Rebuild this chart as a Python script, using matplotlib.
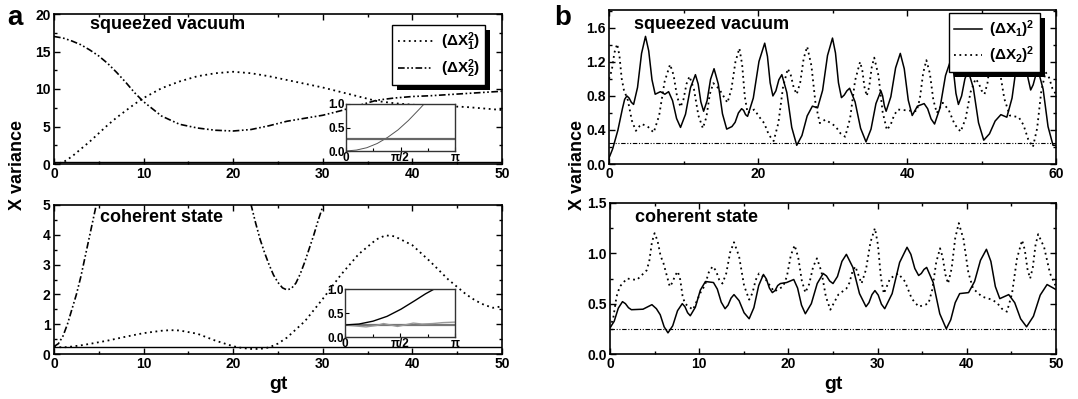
import numpy as np
import matplotlib
matplotlib.use("Agg")
import matplotlib.pyplot as plt
from matplotlib.patches import Rectangle
from matplotlib.ticker import MultipleLocator, FormatStrFormatter, FixedLocator

plt.rcParams['font.family'] = ['Liberation Sans', 'DejaVu Sans']
plt.rcParams['font.weight'] = 'bold'
plt.rcParams['mathtext.fontset'] = 'custom'
plt.rcParams['mathtext.rm'] = 'Liberation Sans:bold'
plt.rcParams['mathtext.it'] = 'Liberation Sans:bold'
plt.rcParams['mathtext.bf'] = 'Liberation Sans:bold'
plt.rcParams['mathtext.default'] = 'rm'

# ---- panel a, squeezed vacuum ----
gt_a = [0, 1, 2, 3, 4, 5, 6, 7, 8, 9, 10, 12, 14, 16, 18, 20, 22, 24, 26, 28,
        30, 32, 34, 36, 38, 40, 42, 44, 46, 48, 50]
sq_x1 = [0.05, 0.2, 1.0, 2.0, 3.0, 4.1, 5.2, 6.2, 7.1, 8.0, 8.8, 10.1, 11.0, 11.7,
         12.1, 12.3, 12.1, 11.7, 11.2, 10.7, 10.2, 9.6, 9.0, 8.4, 8.1, 7.9, 7.8,
         7.7, 7.6, 7.4, 7.2]
sq_x2 = [17.0, 16.8, 16.4, 15.9, 15.2, 14.4, 13.4, 12.2, 10.9, 9.5, 8.3, 6.4, 5.3,
         4.8, 4.5, 4.4, 4.6, 5.1, 5.7, 6.1, 6.5, 7.1, 7.8, 8.5, 8.8, 9.0, 9.1,
         9.25, 9.4, 9.55, 9.7]

# ---- panel a, coherent state ----
coh_x1_t = [0, 1, 2, 3, 4, 6, 8, 10, 12, 13, 14, 16, 18, 20, 21, 22, 23, 24, 25,
            26, 28, 30, 32, 34, 36, 37, 38, 40, 42, 44, 45, 46, 47, 48, 49, 50]
coh_x1 = [0.25, 0.22, 0.25, 0.29, 0.34, 0.45, 0.58, 0.70, 0.78, 0.80, 0.79, 0.68,
          0.45, 0.26, 0.20, 0.17, 0.17, 0.22, 0.35, 0.55, 1.1, 1.85, 2.65, 3.35,
          3.85, 3.98, 3.95, 3.65, 3.1, 2.5, 2.25, 2.0, 1.8, 1.65, 1.55, 1.6]
coh_x2_t1 = [0, 0.5, 1, 1.5, 2, 2.5, 3, 3.5, 4, 4.5, 5, 5.5]
coh_x2_1 = [0.25, 0.35, 0.6, 1.0, 1.5, 2.0, 2.6, 3.3, 4.0, 4.7, 5.4, 6.2]
coh_x2_t2 = [21.5, 22, 22.5, 23, 23.5, 24, 24.5, 25, 25.5, 26, 26.5, 27, 27.5, 28,
             28.5, 29, 29.5, 30, 30.5, 31]
coh_x2_2 = [5.6, 5.0, 4.4, 3.85, 3.4, 3.0, 2.65, 2.4, 2.22, 2.15, 2.2, 2.38, 2.7,
            3.1, 3.55, 4.0, 4.5, 4.95, 5.45, 6.0]

# ---- insets (phase axis 0..pi) ----
ins1_t = [0, 0.3, 0.6, 0.9, 1.2, 1.5, 1.8, 2.1, 2.25]
ins1_v = [0.0, 0.02, 0.07, 0.16, 0.29, 0.45, 0.65, 0.88, 1.0]
ins2_t = [0, 0.4, 0.8, 1.2, 1.6, 2.0, 2.3, 2.55]
ins2_v = [0.25, 0.27, 0.33, 0.43, 0.58, 0.76, 0.9, 1.0]
ins2_gt = [0, 0.3, 0.6, 0.9, 1.1, 1.3, 1.5, 1.7, 1.95, 2.2, 2.5, 2.8, 3.14]
ins2_g = [0.25, 0.23, 0.21, 0.24, 0.28, 0.25, 0.22, 0.25, 0.29, 0.27, 0.28, 0.30, 0.31]

# ---- panel b, squeezed vacuum: (gt, variance) ----
bsq_x1 = [
    (0.0, 0.07), (0.5, 0.18), (1.2, 0.40), (1.8, 0.65), (2.1, 0.76), (2.4, 0.80),
    (2.7, 0.775), (3.0, 0.725), (3.3, 0.70), (3.83, 0.90), (4.37, 1.30), (4.9, 1.50),
    (5.33, 1.33), (5.77, 0.99), (6.2, 0.82), (6.9, 0.85), (7.5, 0.82), (8.0, 0.85),
    (8.53, 0.745), (9.07, 0.535), (9.6, 0.43), (10.27, 0.585), (10.93, 0.895),
    (11.6, 1.05), (11.97, 0.94), (12.33, 0.73), (12.7, 0.62), (13.17, 0.745),
    (13.63, 0.995), (14.1, 1.12), (14.67, 0.94), (15.23, 0.59), (15.8, 0.41),
    (16.5, 0.44), (16.93, 0.49), (17.37, 0.60), (17.8, 0.65), (18.07, 0.63),
    (18.33, 0.58), (18.6, 0.56), (19.37, 0.775), (20.13, 1.205), (20.9, 1.42),
    (21.27, 1.265), (21.63, 0.955), (22.0, 0.80), (22.4, 0.86), (22.8, 0.99),
    (23.2, 1.05), (23.87, 0.84), (24.53, 0.43), (25.2, 0.22), (25.9, 0.335),
    (26.6, 0.565), (27.3, 0.68), (28.0, 0.66), (28.67, 0.865), (29.33, 1.275),
    (30.0, 1.48), (30.4, 1.305), (30.8, 0.955), (31.2, 0.78), (31.57, 0.81),
    (31.93, 0.86), (32.3, 0.89), (33.03, 0.73), (33.77, 0.42), (34.5, 0.26),
    (35.17, 0.41), (35.83, 0.71), (36.5, 0.86), (36.73, 0.80), (36.97, 0.68),
    (37.2, 0.62), (37.83, 0.79), (38.47, 1.13), (39.1, 1.30), (39.63, 1.12),
    (40.17, 0.75), (40.7, 0.57), (41.4, 0.68), (42.3, 0.71), (42.77, 0.65),
    (43.23, 0.53), (43.7, 0.47), (44.43, 0.66), (45.17, 1.04), (45.9, 1.23),
    (46.23, 1.10), (46.57, 0.83), (46.9, 0.70), (47.33, 0.80), (47.77, 1.00),
    (48.2, 1.10), (48.9, 0.895), (49.6, 0.485), (50.3, 0.28), (51.07, 0.355),
    (51.83, 0.505), (52.6, 0.58), (53.4, 0.55), (54.1, 0.775), (54.8, 1.225),
    (55.5, 1.45), (55.87, 1.305), (56.23, 1.015), (56.6, 0.87), (56.93, 0.93),
    (57.27, 1.04), (57.6, 1.10), (58.27, 0.88), (58.93, 0.44), (59.6, 0.22),
    (60.0, 0.22)]
bsq_x2 = [
    (0.0, 1.00), (0.37, 1.10), (0.73, 1.31), (1.1, 1.41), (1.4, 1.275), (1.7, 1.005),
    (2.0, 0.87), (2.53, 0.75), (3.07, 0.51), (3.6, 0.39), (3.87, 0.41), (4.13, 0.45),
    (4.4, 0.47), (5.2, 0.44), (6.0, 0.37), (6.73, 0.57), (7.47, 0.97), (8.2, 1.17),
    (8.67, 1.045), (9.13, 0.795), (9.6, 0.67), (10.0, 0.76), (10.4, 0.94),
    (10.8, 1.03), (11.4, 0.88), (12.0, 0.57), (12.6, 0.42), (13.07, 0.55),
    (13.53, 0.82), (14.0, 0.95), (14.8, 0.88), (15.9, 0.72), (16.43, 0.88),
    (16.97, 1.20), (17.5, 1.36), (17.87, 1.17), (18.23, 0.79), (18.6, 0.60),
    (19.5, 0.64), (20.2, 0.55), (20.83, 0.48), (21.47, 0.34), (22.1, 0.27),
    (22.73, 0.48), (23.37, 0.91), (24.0, 1.12), (24.4, 1.045), (24.8, 0.895),
    (25.2, 0.82), (25.67, 0.96), (26.13, 1.24), (26.6, 1.38), (27.17, 1.155),
    (27.73, 0.705), (28.3, 0.48), (29.0, 0.52), (29.8, 0.48), (30.43, 0.44),
    (31.07, 0.36), (31.7, 0.32), (32.37, 0.54), (33.03, 0.98), (33.7, 1.20),
    (34.0, 1.10), (34.3, 0.90), (34.6, 0.80), (34.93, 0.91), (35.27, 1.14),
    (35.6, 1.25), (36.17, 1.04), (36.73, 0.61), (37.3, 0.40), (37.8, 0.46),
    (38.3, 0.58), (38.8, 0.64), (40.0, 0.63), (41.3, 0.62), (41.73, 0.77),
    (42.17, 1.07), (42.6, 1.22), (43.07, 1.065), (43.53, 0.755), (44.0, 0.60),
    (44.8, 0.72), (45.6, 0.635), (46.4, 0.465), (47.2, 0.38), (47.87, 0.535),
    (48.53, 0.845), (49.2, 1.00), (49.6, 0.955), (50.0, 0.865), (50.4, 0.82),
    (50.8, 0.95), (51.2, 1.22), (51.6, 1.35), (52.33, 1.155), (53.07, 0.765),
    (53.8, 0.57), (55.0, 0.55), (55.63, 0.46), (56.27, 0.29), (56.9, 0.20),
    (57.47, 0.42), (58.03, 0.86), (58.6, 1.08), (59.07, 1.015), (59.53, 0.885),
    (60.0, 0.82)]

# ---- panel b, coherent state: (gt, variance) ----
bcoh_x1 = [
    (0.0, 0.26), (0.47, 0.325), (0.93, 0.455), (1.4, 0.52), (1.73, 0.50), (2.07, 0.46),
    (2.4, 0.44), (3.7, 0.445), (4.7, 0.49), (5.2, 0.45), (5.63, 0.39), (6.07, 0.27),
    (6.5, 0.21), (7.03, 0.28), (7.57, 0.43), (8.1, 0.50), (8.4, 0.47), (8.7, 0.41),
    (9.0, 0.38), (9.57, 0.465), (10.13, 0.635), (10.7, 0.72), (11.6, 0.71),
    (12.03, 0.645), (12.47, 0.515), (12.9, 0.45), (13.23, 0.485), (13.57, 0.555),
    (13.9, 0.59), (14.47, 0.53), (15.03, 0.41), (15.6, 0.35), (16.13, 0.46),
    (16.67, 0.68), (17.2, 0.79), (17.53, 0.745), (17.87, 0.655), (18.2, 0.61),
    (18.5, 0.63), (18.8, 0.68), (19.1, 0.70), (19.8, 0.71), (20.6, 0.74),
    (21.03, 0.655), (21.47, 0.485), (21.9, 0.40), (22.57, 0.50), (23.23, 0.70),
    (23.9, 0.80), (24.27, 0.775), (24.63, 0.725), (25.0, 0.70), (25.5, 0.77),
    (26.0, 0.92), (26.5, 0.99), (27.23, 0.86), (27.97, 0.60), (28.7, 0.47),
    (29.03, 0.51), (29.37, 0.59), (29.7, 0.63), (30.07, 0.585), (30.43, 0.495),
    (30.8, 0.45), (31.63, 0.60), (32.47, 0.91), (33.3, 1.06), (33.73, 0.99),
    (34.17, 0.85), (34.6, 0.78), (34.9, 0.80), (35.2, 0.84), (35.5, 0.86),
    (36.23, 0.71), (36.97, 0.40), (37.7, 0.25), (38.2, 0.34), (38.7, 0.51),
    (39.2, 0.60), (40.2, 0.61), (40.87, 0.72), (41.53, 0.93), (42.2, 1.04),
    (42.7, 0.92), (43.2, 0.67), (43.7, 0.55), (44.7, 0.59), (45.37, 0.51),
    (46.03, 0.35), (46.7, 0.27), (47.47, 0.375), (48.23, 0.585), (49.0, 0.69),
    (50.0, 0.64)]
bcoh_x2 = [
    (0.0, 0.26), (0.37, 0.36), (0.73, 0.57), (1.1, 0.67), (1.9, 0.75), (3.0, 0.735),
    (4.1, 0.83), (4.4, 0.92), (4.7, 1.11), (5.0, 1.20), (5.33, 1.125), (5.67, 0.975),
    (6.0, 0.90), (6.7, 0.67), (7.0, 0.71), (7.3, 0.78), (7.6, 0.82), (7.87, 0.74),
    (8.13, 0.58), (8.4, 0.50), (9.3, 0.44), (10.2, 0.62), (10.63, 0.68), (11.07, 0.81),
    (11.5, 0.87), (11.87, 0.83), (12.23, 0.74), (12.6, 0.70), (13.03, 0.80),
    (13.47, 1.01), (13.9, 1.11), (14.47, 0.97), (15.03, 0.68), (15.6, 0.54),
    (15.97, 0.605), (16.33, 0.735), (16.7, 0.80), (17.3, 0.76), (18.4, 0.62),
    (19.4, 0.67), (19.83, 0.77), (20.27, 0.98), (20.7, 1.08), (21.1, 0.96),
    (21.5, 0.73), (21.9, 0.61), (22.33, 0.695), (22.77, 0.865), (23.2, 0.95),
    (23.7, 0.82), (24.2, 0.57), (24.7, 0.44), (25.6, 0.59), (26.5, 0.65),
    (26.83, 0.705), (27.17, 0.815), (27.5, 0.87), (28.2, 0.70), (28.7, 0.84),
    (29.2, 1.11), (29.7, 1.25), (30.03, 1.09), (30.37, 0.76), (30.7, 0.60),
    (31.4, 0.75), (32.3, 0.80), (33.07, 0.72), (33.83, 0.55), (34.6, 0.47),
    (35.7, 0.50), (36.13, 0.64), (36.57, 0.91), (37.0, 1.05), (37.3, 0.96),
    (37.6, 0.79), (37.9, 0.70), (38.3, 0.85), (38.7, 1.15), (39.1, 1.30),
    (39.63, 1.14), (40.17, 0.81), (40.7, 0.65), (41.7, 0.57), (42.8, 0.54),
    (43.37, 0.51), (43.93, 0.45), (44.5, 0.42), (45.07, 0.60), (45.63, 0.95),
    (46.2, 1.13), (46.5, 1.035), (46.8, 0.845), (47.1, 0.75), (47.4, 0.86),
    (47.7, 1.08), (48.0, 1.19), (48.67, 1.06), (49.33, 0.80), (50.0, 0.67)]

vac_level = 0.25

DOT = (0, (1, 2))
DASHDOT2 = (0, (4, 1.5, 1, 1.5, 1, 1.5))

W, H = 1078, 399
fig = plt.figure(figsize=(W / 100, H / 100), dpi=100)


def px_axes(l, t, r, b):
    return fig.add_axes([l / W, 1 - b / H, (r - l) / W, (b - t) / H])


def style(ax, xmaj, xmin, ymaj, ymin, yfmt, size=10):
    ax.xaxis.set_major_locator(MultipleLocator(xmaj))
    ax.xaxis.set_minor_locator(MultipleLocator(xmin))
    ax.yaxis.set_major_locator(MultipleLocator(ymaj))
    ax.yaxis.set_minor_locator(MultipleLocator(ymin))
    ax.yaxis.set_major_formatter(FormatStrFormatter(yfmt))
    ax.tick_params(which='both', direction='in', top=True, right=True,
                   labelsize=size, width=1)
    ax.tick_params(which='major', length=4, pad=2.5)
    ax.tick_params(which='minor', length=2)
    for s in ax.spines.values():
        s.set_linewidth(1.2)
    for lab in ax.get_xticklabels() + ax.get_yticklabels():
        lab.set_fontweight('bold')


def shadow(ax, leg, d=5):
    fig.canvas.draw()
    bb = leg.get_frame().get_window_extent()
    inv = ax.transAxes.inverted()
    x0, y0 = inv.transform((bb.x0 + d, bb.y0 - d))
    x1, y1 = inv.transform((bb.x1 + d, bb.y1 - d))
    ax.add_patch(Rectangle((x0, y0), x1 - x0, y1 - y0, transform=ax.transAxes,
                           facecolor='black', edgecolor='none', zorder=4.9,
                           clip_on=False))


def legend(ax, anchor, hl):
    leg = ax.legend(loc='upper right', bbox_to_anchor=anchor, borderaxespad=0,
                    fancybox=False, framealpha=1, edgecolor='black',
                    prop={'size': 11, 'weight': 'bold'}, handlelength=hl,
                    borderpad=0.35, labelspacing=0.3, handletextpad=0.5)
    leg.get_frame().set_linewidth(1)
    return leg


# panel a top
ax1 = px_axes(54, 14, 502, 164)
ax1.plot(gt_a, sq_x1, color='black', lw=1.3, ls=DOT, label='(ΔX$_1^2$)')
ax1.plot(gt_a, sq_x2, color='black', lw=1.2, ls=DASHDOT2, label='(ΔX$_2^2$)')
ax1.axhline(vac_level, color='black', lw=1)
ax1.set_xlim(0, 50)
ax1.set_ylim(0, 20)
style(ax1, 10, 5, 5, 2.5, '%d')
ax1.text(0.08, 0.9, 'squeezed vacuum', transform=ax1.transAxes, fontsize=13,
         fontweight='bold', va='baseline')
leg1 = legend(ax1, (0.962, 0.927), 2.3)

# panel a bottom
ax2 = px_axes(54, 205, 502, 354)
ax2.plot(coh_x1_t, coh_x1, color='black', lw=1.3, ls=DOT)
ax2.plot(coh_x2_t1, coh_x2_1, color='black', lw=1.2, ls=DASHDOT2)
ax2.plot(coh_x2_t2, coh_x2_2, color='black', lw=1.2, ls=DASHDOT2)
ax2.axhline(vac_level, color='black', lw=1)
ax2.set_xlim(0, 50)
ax2.set_ylim(0, 5)
style(ax2, 10, 5, 1, 0.5, '%d')
ax2.text(0.103, 0.886, 'coherent state', transform=ax2.transAxes, fontsize=13,
         fontweight='bold', va='baseline')
ax2.set_xlabel('gt', fontsize=14, fontweight='bold', labelpad=3)

# insets
for (l, t, r, b), kind in [((346, 104, 455, 151), 1), ((345, 289, 455, 337), 2)]:
    ai = px_axes(l, t, r, b)
    ai.set_facecolor('white')
    ai.set_zorder(3)
    if kind == 1:
        ai.plot(ins1_t, ins1_v, color='#555555', lw=0.7)
        ai.axhline(vac_level, color='#666666', lw=1.6)
    else:
        ai.axhline(vac_level, color='#777777', lw=1.6)
        ai.plot(ins2_gt, ins2_g, color='#999999', lw=1.0)
        ai.plot(ins2_t, ins2_v, color='black', lw=1.0)
    ai.set_xlim(0, np.pi)
    ai.set_ylim(0, 1)
    ai.xaxis.set_major_locator(FixedLocator([0, np.pi / 2, np.pi]))
    ai.xaxis.set_minor_locator(FixedLocator([np.pi / 4, 3 * np.pi / 4]))
    ai.set_xticklabels(['0', 'π/2', 'π'])
    ai.yaxis.set_major_locator(MultipleLocator(0.5))
    ai.yaxis.set_major_formatter(FormatStrFormatter('%.1f'))
    ai.tick_params(which='both', direction='in', labelsize=8.5, pad=1, width=0.8)
    ai.tick_params(which='major', length=3)
    ai.tick_params(which='minor', length=2)
    for s in ai.spines.values():
        s.set_linewidth(1.0)
        s.set_color('#333333')
    for lab in ai.get_xticklabels() + ai.get_yticklabels():
        lab.set_fontweight('bold')

# panel b top
t1, v1 = zip(*bsq_x1)
t2, v2 = zip(*bsq_x2)
ax3 = px_axes(609, 10, 1056, 164)
ax3.plot(t1, v1, color='black', lw=1.1, label='(ΔX$_1$)$^2$')
ax3.plot(t2, v2, color='black', lw=1.3, ls=DOT, label='(ΔX$_2$)$^2$')
ax3.axhline(vac_level, color='black', lw=0.8, ls=DASHDOT2)
ax3.set_xlim(0, 60)
ax3.set_ylim(0, 1.81)
style(ax3, 20, 10, 0.4, 0.2, '%.1f')
ax3.text(0.056, 0.877, 'squeezed vacuum', transform=ax3.transAxes, fontsize=13,
         fontweight='bold', va='baseline')
leg3 = legend(ax3, (0.964, 0.98), 1.8)

# panel b bottom
t1, v1 = zip(*bcoh_x1)
t2, v2 = zip(*bcoh_x2)
ax4 = px_axes(610, 203, 1056, 354)
ax4.plot(t1, v1, color='black', lw=1.1)
ax4.plot(t2, v2, color='black', lw=1.3, ls=DOT)
ax4.axhline(vac_level, color='black', lw=0.8, ls=DASHDOT2)
ax4.set_xlim(0, 50)
ax4.set_ylim(0, 1.5)
style(ax4, 10, 5, 0.5, 0.25, '%.1f')
ax4.text(0.056, 0.874, 'coherent state', transform=ax4.transAxes, fontsize=13,
         fontweight='bold', va='baseline')
ax4.set_xlabel('gt', fontsize=14, fontweight='bold', labelpad=3)

# shared labels
fig.text(18 / W, 1 - 165 / H, 'X variance', rotation=90, ha='center', va='center',
         fontsize=13, fontweight='bold')
fig.text(578 / W, 1 - 165 / H, 'X variance', rotation=90, ha='center', va='center',
         fontsize=13, fontweight='bold')
fig.text(15 / W, 1 - 18 / H, 'a', ha='center', va='center', fontsize=20,
         fontweight='bold')
fig.text(563 / W, 1 - 18 / H, 'b', ha='center', va='center', fontsize=20,
         fontweight='bold')

shadow(ax1, leg1)
shadow(ax3, leg3)

fig.savefig('out.png', dpi=100)
